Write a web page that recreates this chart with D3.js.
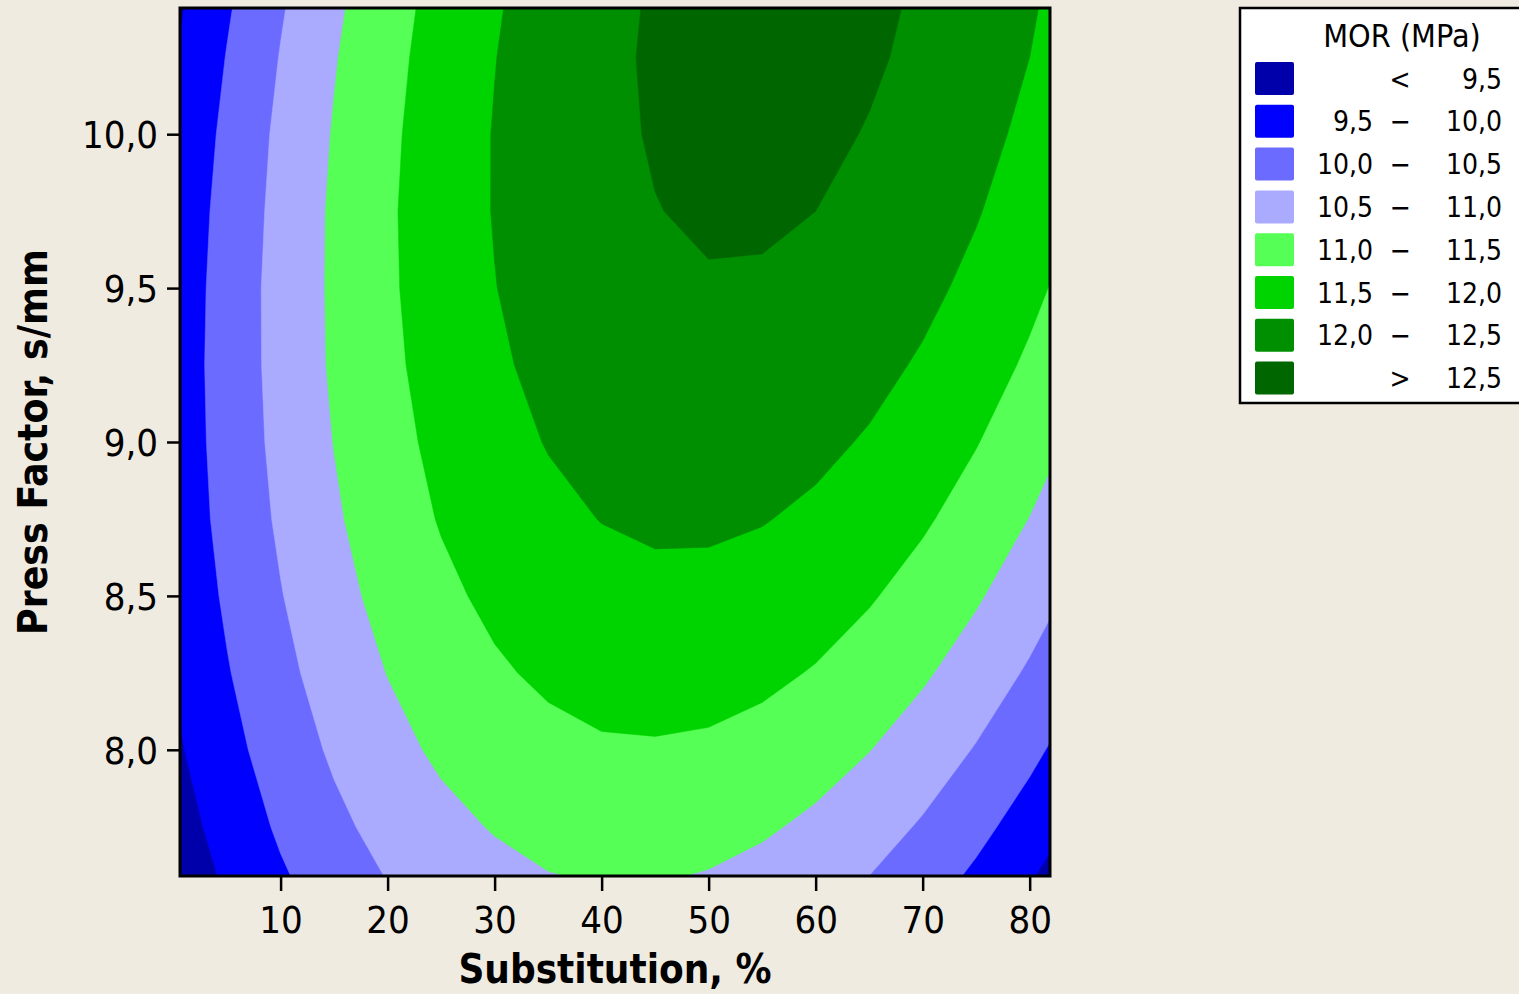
<!DOCTYPE html>
<html>
<head>
<meta charset="utf-8">
<script src="https://cdn.jsdelivr.net/npm/d3@7"></script>
<style>
  body { margin: 0; background: #f0ebe1; }
  text { font-family: "DejaVu Sans Condensed", "DejaVu Sans", sans-serif; fill: #000; }
</style>
</head>
<body>
<script>
// grid of the fitted response
var substitution = [0, 5, 10, 15, 20, 25, 30, 35, 40, 45, 50, 55, 60, 65, 70, 75, 80, 85];
var pressFactor = [7.5, 7.75, 8.0, 8.25, 8.5, 8.75, 9.0, 9.25, 9.5, 9.75, 10.0, 10.25, 10.5];
// one row per press factor value (bottom to top)
var mor = [
  [9.10, 9.51, 9.87, 10.18, 10.44, 10.64, 10.79, 10.89, 10.94, 10.93, 10.87, 10.76, 10.59, 10.38, 10.11, 9.79, 9.41, 8.99],
  [9.27, 9.69, 10.07, 10.39, 10.66, 10.87, 11.03, 11.15, 11.20, 11.21, 11.16, 11.06, 10.91, 10.71, 10.45, 10.14, 9.78, 9.37],
  [9.41, 9.85, 10.23, 10.57, 10.85, 11.08, 11.25, 11.37, 11.45, 11.46, 11.43, 11.34, 11.20, 11.01, 10.77, 10.47, 10.12, 9.72],
  [9.52, 9.97, 10.37, 10.72, 11.01, 11.25, 11.44, 11.58, 11.66, 11.69, 11.67, 11.60, 11.47, 11.29, 11.06, 10.78, 10.44, 10.05],
  [9.61, 10.07, 10.48, 10.84, 11.15, 11.40, 11.60, 11.75, 11.85, 11.89, 11.88, 11.82, 11.71, 11.54, 11.32, 11.05, 10.73, 10.35],
  [9.67, 10.15, 10.57, 10.94, 11.26, 11.53, 11.74, 11.90, 12.01, 12.07, 12.07, 12.02, 11.92, 11.77, 11.56, 11.30, 10.99, 10.62],
  [9.70, 10.19, 10.63, 11.01, 11.34, 11.62, 11.85, 12.02, 12.14, 12.21, 12.23, 12.19, 12.10, 11.96, 11.77, 11.52, 11.22, 10.87],
  [9.71, 10.21, 10.66, 11.06, 11.40, 11.69, 11.93, 12.12, 12.25, 12.33, 12.36, 12.34, 12.26, 12.13, 11.95, 11.72, 11.43, 11.09],
  [9.69, 10.20, 10.67, 11.07, 11.43, 11.74, 11.99, 12.19, 12.33, 12.43, 12.47, 12.46, 12.39, 12.28, 12.11, 11.89, 11.61, 11.29],
  [9.64, 10.17, 10.64, 11.07, 11.44, 11.75, 12.02, 12.23, 12.39, 12.49, 12.55, 12.55, 12.50, 12.39, 12.24, 12.03, 11.77, 11.45],
  [9.57, 10.11, 10.60, 11.03, 11.41, 11.74, 12.02, 12.24, 12.41, 12.53, 12.60, 12.61, 12.58, 12.48, 12.34, 12.14, 11.90, 11.60],
  [9.47, 10.02, 10.52, 10.97, 11.36, 11.70, 11.99, 12.23, 12.41, 12.55, 12.63, 12.65, 12.63, 12.55, 12.42, 12.23, 12.00, 11.71],
  [9.34, 9.91, 10.42, 10.88, 11.29, 11.64, 11.94, 12.19, 12.39, 12.53, 12.62, 12.66, 12.65, 12.58, 12.47, 12.30, 12.07, 11.80]
];
var levels = [9.5, 10.0, 10.5, 11.0, 11.5, 12.0, 12.5];
var bandColors = ["#0000aa", "#0000ff", "#6b6bff", "#aaaaff", "#55ff55", "#00d400", "#008f00", "#006600"];
var xDomain = [0.6, 81.9];
var yDomain = [7.59, 10.41];
var xTicks = [10, 20, 30, 40, 50, 60, 70, 80];
var yTicks = [8.0, 8.5, 9.0, 9.5, 10.0];

var width = 1519;
var height = 994;
var plot = {left: 180, top: 8, right: 1050, bottom: 876};

var comma = d3.formatLocale({decimal: ",", thousands: ".", grouping: [3], currency: ["", ""]}).format(".1f");

const svg = d3.select("body")
              .append("svg")
              .attr("width", width)
              .attr("height", height);

svg.append("rect")
   .attr("width", "100%")
   .attr("height", "100%")
   .style("fill", "#f0ebe1");

var x = d3.scaleLinear().domain(xDomain).range([plot.left, plot.right]);
var y = d3.scaleLinear().domain(yDomain).range([plot.bottom, plot.top]);

// d3.contours puts grid value i at i + 0.5
var gx = d3.scaleLinear().domain([0.5, substitution.length - 0.5]).range(d3.extent(substitution));
var gy = d3.scaleLinear().domain([0.5, pressFactor.length - 0.5]).range(d3.extent(pressFactor));

var values = mor.flat();
var bands = d3.contours()
              .size([substitution.length, pressFactor.length])
              .thresholds([d3.min(values)].concat(levels))(values);

var path = d3.geoPath(d3.geoTransform({
  point: function(u, v) { this.stream.point(x(gx(u)), y(gy(v))); }
}));

svg.append("clipPath")
   .attr("id", "plotclip")
   .append("rect")
   .attr("x", plot.left)
   .attr("y", plot.top)
   .attr("width", plot.right - plot.left)
   .attr("height", plot.bottom - plot.top);

svg.append("g")
   .attr("clip-path", "url(#plotclip)")
   .selectAll("path")
   .data(bands)
   .enter()
   .append("path")
   .attr("d", path)
   .attr("fill", function(d, i) { return bandColors[i]; })
   .attr("stroke", function(d, i) { return bandColors[i]; })
   .attr("stroke-width", 0.5);

// axes
var xAxis = svg.append("g")
   .attr("transform", "translate(0," + plot.bottom + ")")
   .call(d3.axisBottom(x).tickValues(xTicks).tickSize(15).tickPadding(15).tickFormat(d3.format("d")));

var yAxis = svg.append("g")
   .attr("transform", "translate(" + plot.left + ",0)")
   .call(d3.axisLeft(y).tickValues(yTicks).tickSize(13).tickPadding(9).tickFormat(comma));

[xAxis, yAxis].forEach(function(a) {
  a.select(".domain").remove();
  a.selectAll(".tick line").attr("stroke", "#000").attr("stroke-width", 2.5);
  a.selectAll(".tick text").style("font-size", "38px").style("font-family", null).attr("fill", "#000");
});
yAxis.selectAll(".tick text").attr("dy", "0.36em");

// frame
svg.append("rect")
   .attr("x", plot.left)
   .attr("y", plot.top)
   .attr("width", plot.right - plot.left)
   .attr("height", plot.bottom - plot.top)
   .attr("fill", "none")
   .attr("stroke", "#000")
   .attr("stroke-width", 3);

// axis titles
svg.append("text")
   .attr("x", (plot.left + plot.right) / 2)
   .attr("y", 983)
   .attr("text-anchor", "middle")
   .style("font-size", "40px")
   .style("font-weight", "bold")
   .text("Substitution, %");

svg.append("text")
   .attr("transform", "translate(47," + (plot.top + plot.bottom) / 2 + ") rotate(-90)")
   .attr("text-anchor", "middle")
   .style("font-size", "40.5px")
   .style("font-weight", "bold")
   .text("Press Factor, s/mm");

// legend
var legend = svg.append("g");
legend.append("rect")
   .attr("x", 1240)
   .attr("y", 8)
   .attr("width", 320)
   .attr("height", 395)
   .attr("fill", "#fff")
   .attr("stroke", "#000")
   .attr("stroke-width", 2.5);

legend.append("text")
   .attr("x", 1402)
   .attr("y", 47)
   .attr("text-anchor", "middle")
   .style("font-size", "32px")
   .text("MOR (MPa)");

var rows = bandColors.map(function(c, i) {
  return {
    color: c,
    low: i === 0 ? "" : (i === bandColors.length - 1 ? "" : comma(levels[i - 1])),
    mid: i === 0 ? "<" : (i === bandColors.length - 1 ? ">" : "\u2212"),
    high: i === bandColors.length - 1 ? comma(levels[i - 1]) : comma(levels[i])
  };
});

var row = legend.selectAll(".row")
   .data(rows)
   .enter()
   .append("g")
   .attr("class", "row")
   .attr("transform", function(d, i) { return "translate(0," + (62 + i * 42.8) + ")"; });

row.append("rect")
   .attr("x", 1255)
   .attr("width", 39)
   .attr("height", 33)
   .attr("rx", 2)
   .attr("fill", function(d) { return d.color; });

row.append("text")
   .attr("x", 1373).attr("y", 16.5).attr("dy", "0.36em")
   .attr("text-anchor", "end")
   .style("font-size", "28px")
   .text(function(d) { return d.low; });

row.append("text")
   .attr("x", 1400).attr("y", 16.5).attr("dy", "0.36em")
   .attr("text-anchor", "middle")
   .style("font-size", "28px")
   .text(function(d) { return d.mid; });

row.append("text")
   .attr("x", 1502).attr("y", 16.5).attr("dy", "0.36em")
   .attr("text-anchor", "end")
   .style("font-size", "28px")
   .text(function(d) { return d.high; });
</script>
</body>
</html>
